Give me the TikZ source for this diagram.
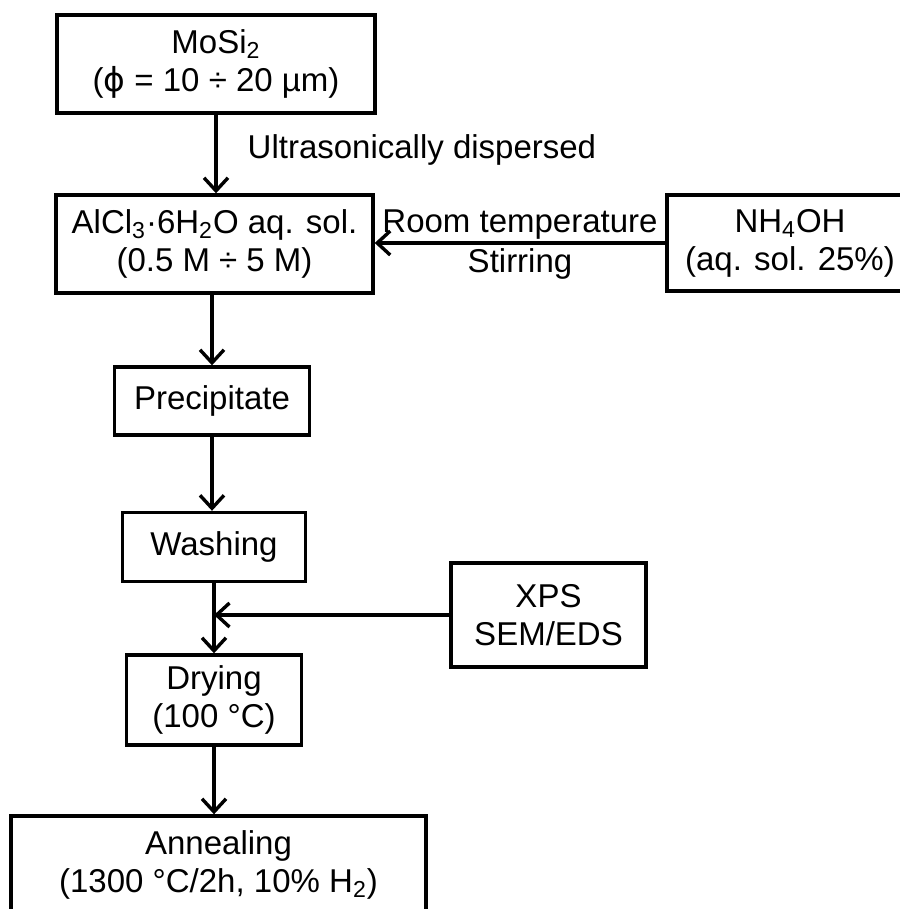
\documentclass[tikz,border=0pt]{standalone}
\usepackage{fontspec}
\setmainfont{Liberation Sans}
\newfontfamily\phifont{DejaVu Sans}
\usetikzlibrary{arrows.meta}
\usetikzlibrary{positioning}
\tikzset{
  box/.style={
    draw, line width=1.7pt,
    align=center, inner sep=0,
    font=\fontsize{16.5}{19}\selectfont
  },
  lbl/.style={font=\fontsize{16.5}{19}\selectfont},
  arrow/.style={-{Straight Barb[length=6.5pt,width=12pt]}, line width=1.7pt}
}
\begin{document}
\begin{tikzpicture}[x=0.5pt,y=-0.5pt]
  \useasboundingbox (0,0) rectangle (899,909);
  % process steps
  \node[box, minimum width=159pt, minimum height=49pt] (mosi) at (216,64)
    {MoSi\textsubscript{2}\\({\phifont ϕ} = 10 ÷ 20 µm)};
  \node[box, minimum width=158.5pt, minimum height=49pt] (alcl) at (214.5,244)
    {AlCl\textsubscript{3}·6H\textsubscript{2}O aq. sol.\\(0.5 M ÷ 5 M)};
  \node[box, minimum width=123pt, minimum height=48pt] (nh) at (790,243)
    {NH\textsubscript{4}OH\\(aq. sol. 25\%)};
  \node[box, minimum width=97.5pt, minimum height=34pt] (prec) at (212,401)
    {Precipitate};
  \node[box, minimum width=91.5pt, minimum height=34.5pt] (wash) at (214,547)
    {Washing};
  \node[box, minimum width=97.5pt, minimum height=52pt] (xps) at (548.5,615)
    {XPS\\SEM/EDS};
  \node[box, minimum width=87.5pt, minimum height=45pt] (dry) at (214,700)
    {Drying\\(100 °C)};
  \node[box, minimum width=207.5pt, minimum height=49pt] (ann) at (218.5,865)
    {Annealing\\(1300 °C/2h, 10\% H\textsubscript{2})};
  \coordinate (join) at (wash.south |- xps.west);

  % connectors
  \draw[arrow] (mosi.south) -- node[lbl, right=15pt, inner sep=0, pos=0.45] (lblsonic)
    {Ultrasonically dispersed} (mosi.south |- alcl.north);
  \draw[arrow] (nh.west) -- node[lbl, above, inner sep=1pt] (lbltemp) {Room temperature}
    node[lbl, below, inner sep=2pt] (lblstir) {Stirring} (nh.west -| alcl.east);
  \draw[arrow] (alcl.south -| prec.north) -- (prec.north);
  \draw[arrow] (prec.south) -- (prec.south |- wash.north);
  \draw[arrow] (wash.south) -- (wash.south |- dry.north);
  \draw[arrow] (xps.west) -- (join);
  \draw[arrow] (dry.south) -- (dry.south |- ann.north);
\end{tikzpicture}
\end{document}
